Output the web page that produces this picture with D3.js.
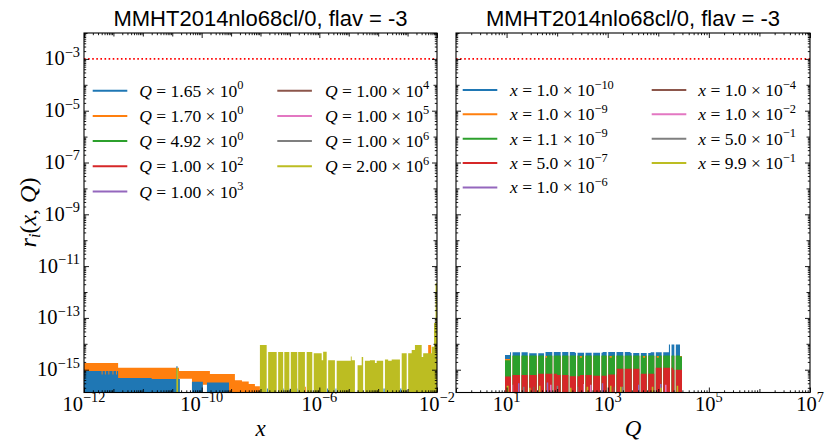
<!DOCTYPE html>
<html><head><meta charset="utf-8">
<script src="https://cdn.jsdelivr.net/npm/d3@7"></script>
<style>body{margin:0;background:#fff}svg{display:block}</style>
</head><body><svg id="c" width="830" height="446"></svg>
<script>
// ================= DATA =================
const titleText = "MMHT2014nlo68cl/0, flav = -3";
const qValues = [1.65, 1.70, 4.92, 1e2, 1e3, 1e4, 1e5, 1e6, 2e6];
const xValues = [1e-10, 1e-9, 1.1e-9, 5e-7, 1e-6, 1e-4, 1e-2, 0.5, 0.99];
const threshold = 1e-3;
// tick labels (log10 position -> exponent label as printed)
const leftXTickPos = [-12, -8, -4, 0];
const leftXTickLab = ["\u221212", "\u221210", "\u22126", "\u22122"];
const rightXTickPos = [1, 3, 5, 7];
const rightXTickLab = ["1", "3", "5", "7"];
const yTickPos = [-3, -5, -7, -9, -11, -13, -15];

// Left panel series: [log10 x start, r value, optional lower edge], steps
const leftQ165 = [[-12,8.9e-16],[-11.40,6.5e-16],[-11.37,8.9e-16],[-11.29,6.5e-16],[-11.26,8.9e-16],
  [-11.17,6.5e-16],[-11.14,8.9e-16],[-11.03,6.5e-16],[-11.00,8.9e-16],[-10.91,6.5e-16],[-10.88,8.9e-16],
  [-10.84,4.8e-16],[-9.70,4.4e-16],[-8.86,1.35e-15],[-8.82,4.4e-16],[-8.74,0],[-8.33,3.4e-16],
  [-7.96,0],[-7.82,3.2e-16],[-7.07,0],
  [-5.78,1.9e-16],[-5.75,0],[-5.22,1.9e-16],[-5.20,0],[-5.01,1.9e-16],[-4.98,0],[-4.74,1.9e-16],[-4.725,0],
  [-3.74,1.9e-16],[-3.71,0],[-3.45,1.9e-16],[-3.42,0],[-1.82,1.9e-16],[-1.78,0],[-1.25,1.9e-16],[-1.21,0],[0,0]];
const leftQ170 = [[-12,1.8e-15],[-10.84,1.2e-15],[-8.77,9e-16,4.5e-16],[-8.33,9e-16],[-7.96,9e-16,2.6e-16],
  [-7.82,9e-16],[-7.72,6.8e-16],[-6.87,3.9e-16],[-6.63,3.5e-16],[-6.40,2.8e-16],[-6.19,2.3e-16],[-6.02,0],
  [-4.49,2.2e-16],[-4.46,0],[-0.30,8.9e-15],[-0.20,0],[0,0]];
const leftQ492 = [[-12,0],[0,0]];
const leftQ1e2 = [[-12,0],[0,0]];
const leftQ1e3 = [[-12,0],[0,0]];
const leftQ1e4 = [[-12,0],[0,0]];
const leftQ1e5 = [[-12,0],[0,0]];
const leftQ1e6 = [[-12,0],[-5.21,1.7e-16],[-5.195,0],[-1.03,1.7e-16],[-1.01,0],[0,0]];
const leftQ2e6 = [[-12,0],[-8.86,1.15e-15],[-8.80,0],
  [-6.02,8.9e-15],[-5.79,0],[-5.74,4.8e-15],[-5.45,0],[-5.40,4.8e-15],[-5.23,0],[-5.19,4.8e-15],
  [-5.02,0],[-4.97,4.8e-15],[-4.75,0],[-4.72,4.8e-15],[-4.49,0],[-4.43,4.8e-15],[-4.24,0],[-4.19,4.3e-15],
  [-3.92,2.3e-15],[-3.87,4.9e-15],[-3.75,0],[-3.70,2.3e-15],[-3.47,0],[-3.41,2.2e-15],[-2.93,3.2e-15],
  [-2.90,2.3e-15],[-2.79,0],[-2.70,1.5e-15],[-2.56,3.1e-15],[-2.51,0],[-2.45,2.2e-15],[-2.28,2.3e-15],
  [-2.11,1.8e-15],[-2.05,2.2e-15],[-1.83,0],[-1.77,2.5e-15],[-1.66,2.2e-15],[-1.54,2.5e-15],[-1.26,0],
  [-1.20,4.3e-15],[-1.03,0],[-0.98,4.3e-15],[-0.86,5.8e-15],[-0.75,8.9e-15],[-0.52,3.1e-15],[-0.47,4.3e-15],
  [-0.18,7.7e-15],[-0.10,6.3e-14],[-0.05,2.2e-12],[0,2.2e-12]];

// Right panel series: [log10 Q start, r value]
const rightGaps = [1.088,1.266,1.418,1.596,1.740,1.904,2.070,2.221,2.373,2.531,2.683,2.847,2.980,3.144,
  3.308,3.474,3.625,3.771,3.921,4.068,4.232,4.317];
const rightGapWidth = 0.03;
const rightX1e10 = [[0.969,3.7e-15],[1.068,4.7e-15],[1.45,4.3e-15],[1.75,4.8e-15],[2.35,4.5e-15],[2.9,4.8e-15],
  [3.45,4.4e-15],[3.85,4.7e-15],[4.21,9.5e-15],[4.43,3.0e-15],[4.469,0]];
const rightX1e9 = [[0.969,2.6e-15],[1.068,3.4e-15],[4.469,0]];
const rightX11e9 = [[0.969,2.3e-15],[1.068,3.5e-15],[1.76,2.9e-15],[1.80,3.5e-15],[2.45,2.9e-15],[2.49,3.5e-15],
  [3.04,2.9e-15],[3.08,3.5e-15],[3.70,2.9e-15],[3.74,3.5e-15],[3.97,2.9e-15],[4.01,3.5e-15],[4.43,3.2e-15],[4.469,0]];
const rightX5e7 = [[0.969,5.5e-16],[1.107,6.3e-16],[1.6,7.0e-16],[2.0,6.3e-16],[2.25,5.6e-16],[2.45,6.3e-16],
  [2.7,5.8e-16],[3.0,6.5e-16],[3.18,1.1e-15],[3.64,7.0e-16],[3.95,1.2e-15],[4.29,1.0e-15],[4.469,0]];
const rightX1e6 = [[0.969,0],[1.226,3.0e-16],[1.256,0],[1.794,3.2e-16],[1.824,0],[2.881,3.0e-16],[2.911,0],
  [3.599,2.6e-16],[3.629,0],[4.034,2.8e-16],[4.064,0],[4.469,0]];
const rightX1e4 = [[0.969,0],[1.523,2.2e-16],[1.553,0],[3.111,2.2e-16],[3.141,0],[4.469,0]];
const rightX1e2 = [[0.969,0],[1.101,2.6e-16],[1.131,0],[1.859,2.6e-16],[1.889,0],[2.517,2.8e-16],[2.547,0],
  [2.650,2.6e-16],[2.680,0],[3.771,2.6e-16],[3.801,0],[4.133,2.6e-16],[4.163,0],[4.469,0]];
const rightX5e1 = [[0.969,0],[1.325,2.2e-16],[1.355,0],[1.991,2.4e-16],[2.021,0],[2.387,2.2e-16],[2.417,0],
  [3.277,2.2e-16],[3.307,0],[4.469,0]];
const rightX99e1 = [[0.969,0],[1.003,2.4e-16],[1.040,0],[1.444,2.0e-16],[1.474,0],[1.641,2.4e-16],[1.671,0],
  [2.254,2.0e-16],[2.284,0],[2.584,2.2e-16],[2.614,0],[2.847,2.0e-16],[2.877,0],[3.045,2.4e-16],[3.075,0],
  [3.243,2.2e-16],[3.273,0],[3.474,2.0e-16],[3.504,0],[3.870,2.2e-16],[3.900,0],[4.034,2.0e-16],[4.064,0],
  [4.364,2.4e-16],[4.394,0],[4.469,0]];

// ================= RENDER =================
const colors = ["#1f77b4","#ff7f0e","#2ca02c","#d62728","#9467bd","#8c564b","#e377c2","#7f7f7f","#bcbd22"];
const serif = "'Liberation Serif','DejaVu Serif',serif";
const sans = "'Liberation Sans','DejaVu Sans',sans-serif";
const svg = d3.select("#c");
const yTop = 33, yBot = 392.5;
const yS = d3.scaleLog().domain([Math.pow(10,-15.88), 1e-2]).range([yBot, yTop]);
const xL = d3.scaleLog().domain([1e-12, 1]).range([84, 437]);
const xR = d3.scaleLog().domain([1, 1e7]).range([456, 810]);

function applyGaps(steps, gaps, w){
  const pts = new Set(steps.map(s=>s[0]));
  gaps.forEach(g=>{pts.add(g); pts.add(+(g+w).toFixed(4));});
  const sorted = [...pts].sort((a,b)=>a-b);
  const valAt = b => { let v=0; for(const s of steps){ if(s[0]<=b+1e-9) v=s[1]; else break; } return v; };
  return sorted.map(b => [b, gaps.some(g=>b>=g-1e-9 && b<g+w-1e-9) ? 0 : valAt(b)]);
}

function stepArea(xs, steps){
  const pts = steps.map(s=>({x:Math.pow(10,s[0]), v:s[1], lo:s[2]||0}));
  return d3.area().curve(d3.curveStepAfter)
    .x(d=>xs(d.x))
    .y0(d=>d.lo>0 ? yS(d.lo) : yBot+3)
    .y1(d=>d.v>0 ? yS(d.v) : yBot+3)(pts);
}

function logTicks(eLo, eHi, labeled, dom){
  const lab=[], dec=[], min=[];
  for(let e=eLo;e<=eHi;e++){
    const v=Math.pow(10,e);
    if(v>=dom[0]*0.999 && v<=dom[1]*1.001) (labeled.includes(e)?lab:dec).push(v);
    for(let k=2;k<10;k++){ const m=k*v; if(m>dom[0] && m<dom[1]) min.push(m); }
  }
  return {lab, dec, min};
}

function tickGroup(g, axisFn, scale, vals, len, tr){
  g.append("g").attr("transform", tr)
    .call(axisFn(scale).tickValues(vals).tickSize(-len).tickFormat(""))
    .call(a=>a.select(".domain").remove())
    .selectAll("line").attr("stroke","#000").attr("stroke-width",0.9);
}

function powText(g, x, y, base, sup, anchor, size){
  const t = g.append("text").attr("x",x).attr("y",y).attr("text-anchor",anchor)
    .attr("font-family",serif).attr("font-size",size).attr("fill","#000");
  t.append("tspan").text(base);
  t.append("tspan").attr("dy",-size*0.42).attr("font-size",size*0.7).text(sup);
  return t;
}

function sci(v, digits){
  const e = Math.floor(Math.log10(v)+1e-9);
  const m = v/Math.pow(10,e);
  return [m.toFixed(digits), (e<0?"\u2212":"")+Math.abs(e)];
}

function drawPanel(o){
  const g = svg.append("g");
  const x0 = o.xs.range()[0], x1 = o.xs.range()[1];
  svg.append("clipPath").attr("id",o.id).append("rect")
    .attr("x",x0).attr("y",yTop).attr("width",x1-x0).attr("height",yBot-yTop);
  const dg = g.append("g").attr("clip-path",`url(#${o.id})`);
  o.order.forEach(i=>{
    dg.append("path").attr("d", stepArea(o.xs, o.series[i])).attr("fill", colors[i]);
  });
  dg.append("line").attr("x1",x0).attr("x2",x1).attr("y1",yS(threshold)).attr("y2",yS(threshold))
    .attr("stroke","#ff0000").attr("stroke-width",1.6).attr("stroke-dasharray","1.6,2.5");

  // ticks
  const xd = o.xs.domain();
  const xt = logTicks(Math.round(Math.log10(xd[0])), Math.round(Math.log10(xd[1])), o.xLabPos, xd);
  const yd = yS.domain();
  const yt = logTicks(-16, -2, yTickPos, yd);
  [[d3.axisBottom, `translate(0,${yBot})`],[d3.axisTop, `translate(0,${yTop})`]].forEach(([fn,tr])=>{
    tickGroup(g, fn, o.xs, xt.lab, 5, tr);
    tickGroup(g, fn, o.xs, xt.dec, 3.5, tr);
    tickGroup(g, fn, o.xs, xt.min, 2.2, tr);
  });
  [[d3.axisLeft, `translate(${x0},0)`],[d3.axisRight, `translate(${x1},0)`]].forEach(([fn,tr])=>{
    tickGroup(g, fn, yS, yt.lab, 5, tr);
    tickGroup(g, fn, yS, yt.dec, 3.5, tr);
    tickGroup(g, fn, yS, yt.min, 2.2, tr);
  });
  g.append("rect").attr("x",x0).attr("y",yTop).attr("width",x1-x0).attr("height",yBot-yTop)
    .attr("fill","none").attr("stroke","#000").attr("stroke-width",1.1);

  // x tick labels
  o.xLabPos.forEach((e,i)=>powText(g, o.xs(Math.pow(10,e)), 411, "10", o.xLabText[i], "middle", 20.5));
  if(o.yLabels){
    yTickPos.forEach(e=>powText(g, x0-4, yS(Math.pow(10,e))+6.5, "10", "\u2212"+Math.abs(e), "end", 20.5));
  }
  // title
  g.append("text").attr("x",(x0+x1)/2).attr("y",26).attr("text-anchor","middle")
    .attr("font-family",sans).attr("font-size",22).attr("fill","#000").text(titleText);
  // x label
  g.append("text").attr("x",(x0+x1)/2).attr("y",436).attr("text-anchor","middle")
    .attr("font-family",serif).attr("font-style","italic").attr("font-size",23).text(o.xName);

  // legend
  o.legVals.forEach((v,i)=>{
    const col = i<5?0:1, row = i<5?i:i-5;
    const yy = o.leg.y0 + row*o.leg.dy;
    const hx = o.leg.hx[col], tx = o.leg.tx[col];
    g.append("line").attr("x1",hx).attr("x2",hx+34.6).attr("y1",yy).attr("y2",yy)
      .attr("stroke",colors[i]).attr("stroke-width",2);
    const [m,e] = sci(v, o.leg.digits);
    const t = g.append("text").attr("x",tx).attr("y",yy+6).attr("font-family",serif)
      .attr("font-size",17.5).attr("fill","#000").attr("xml:space","preserve");
    t.append("tspan").attr("font-style","italic").text(o.legVar);
    t.append("tspan").text(" = "+m+" \u00d7 10");
    t.append("tspan").attr("dy",-7.5).attr("font-size",12.4).text(e);
  });
}

drawPanel({id:"clipL", xs:xL,
  series:[leftQ165,leftQ170,leftQ492,leftQ1e2,leftQ1e3,leftQ1e4,leftQ1e5,leftQ1e6,leftQ2e6],
  order:[1,0,2,3,4,5,6,7,8], xLabPos:leftXTickPos, xLabText:leftXTickLab, yLabels:true, xName:"x",
  legVals:qValues, legVar:"Q", leg:{y0:90.7, dy:25.2, hx:[92.7,277.3], tx:[139.3,325], digits:2}});

const rightRaw = [rightX1e10,rightX1e9,rightX11e9,rightX5e7,rightX1e6,rightX1e4,rightX1e2,rightX5e1,rightX99e1];
drawPanel({id:"clipR", xs:xR,
  series: rightRaw.map(s=>applyGaps(s, rightGaps, rightGapWidth)),
  order:[0,1,2,3,4,5,6,7,8], xLabPos:rightXTickPos, xLabText:rightXTickLab, yLabels:false, xName:"Q",
  legVals:xValues, legVar:"x", leg:{y0:90, dy:24.35, hx:[462.7,651.7], tx:[510,698.3], digits:1}});

// y axis label
const yl = svg.append("text").attr("transform","translate(36,212.5) rotate(-90)").attr("text-anchor","middle")
  .attr("font-family",serif).attr("font-size",24).attr("fill","#000");
yl.append("tspan").attr("font-style","italic").text("r");
yl.append("tspan").attr("font-style","italic").attr("font-size",16).attr("dy",4).text("i");
yl.append("tspan").attr("dy",-4).text("(");
yl.append("tspan").attr("font-style","italic").text("x");
yl.append("tspan").text(", ");
yl.append("tspan").attr("font-style","italic").text("Q");
yl.append("tspan").text(")");
</script></body></html>
